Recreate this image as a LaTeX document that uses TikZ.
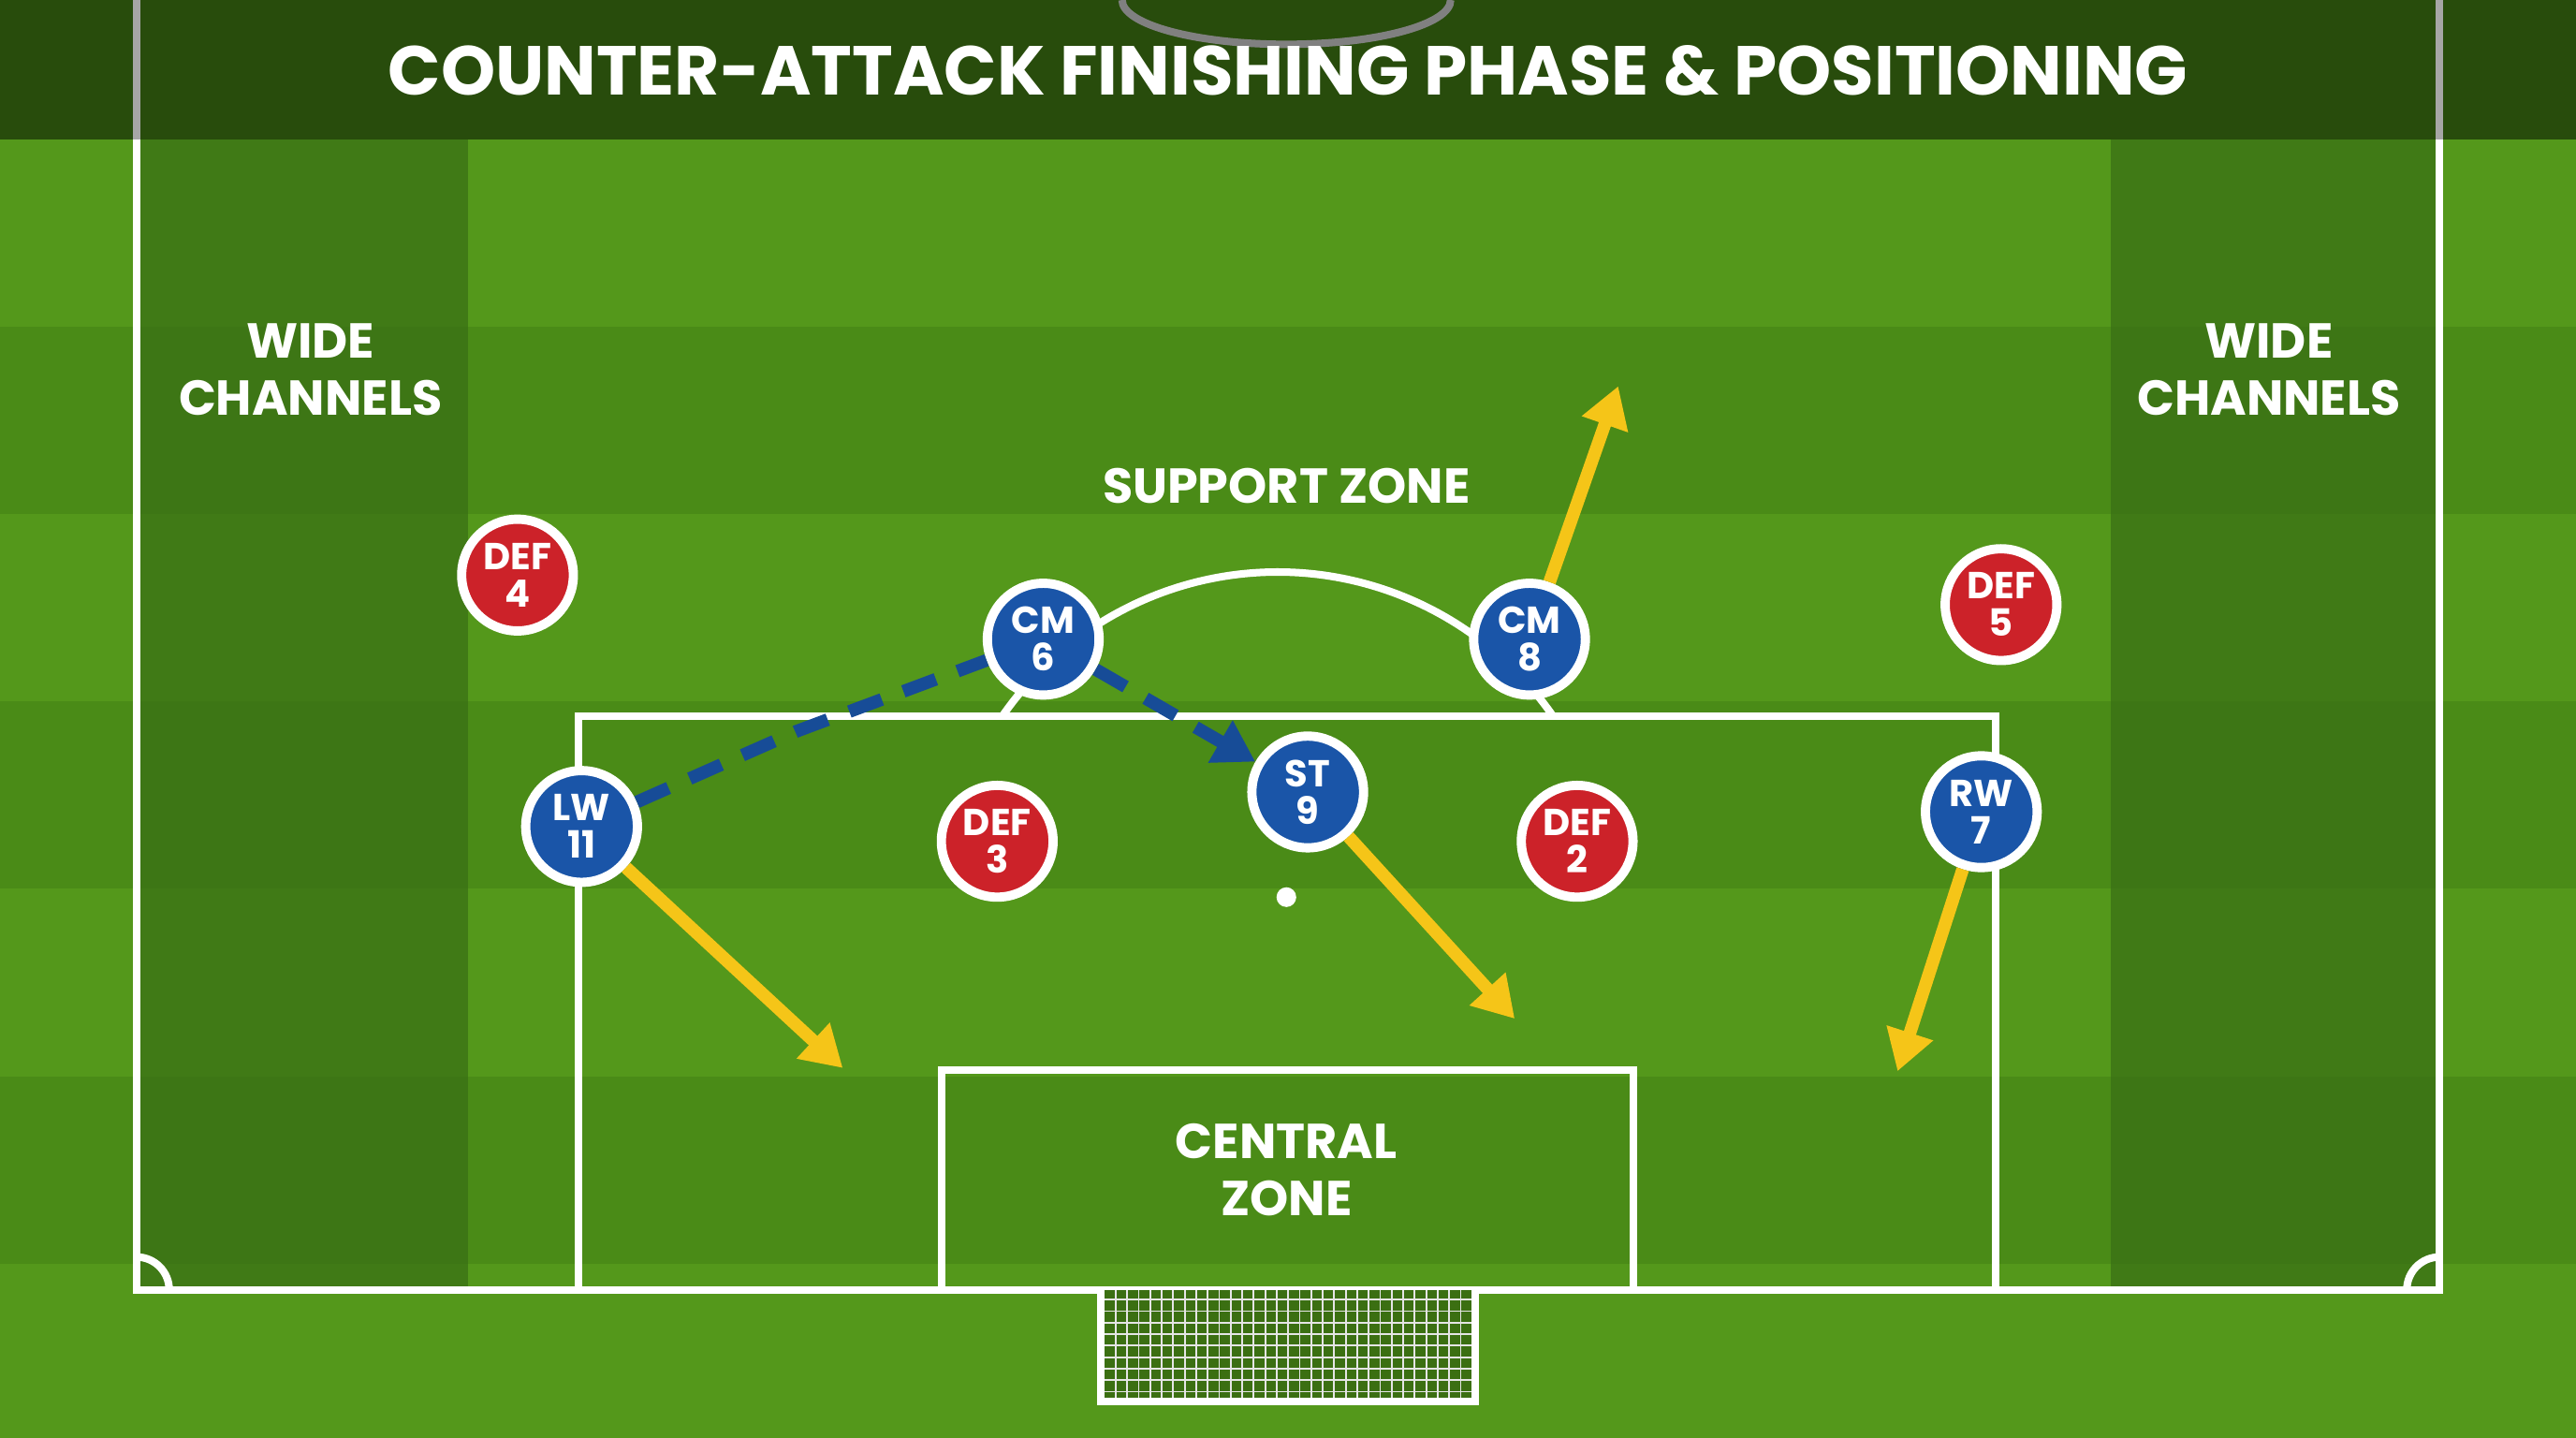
\documentclass[tikz,border=0pt]{standalone}
\usepackage{fontspec}
\setmainfont{Poppins}
\usetikzlibrary{arrows.meta,calc}
\definecolor{grassA}{HTML}{4A8B17}
\definecolor{grassB}{HTML}{54981B}
\definecolor{chan}{HTML}{386E15}
\definecolor{blueP}{HTML}{1A55A8}
\definecolor{redP}{HTML}{CC2229}
\definecolor{yel}{HTML}{F5C518}
\tikzset{
  player/.style={circle,draw=white,line width=1.6pt,minimum size=0.68cm,inner sep=0pt,
    font=\bfseries\fontsize{6.5}{6.5}\selectfont,text=white,align=center},
  att/.style={player,fill=blueP},
  def/.style={player,fill=redP},
  run/.style={yel,line width=2.2pt,-{Triangle[length=7pt,width=8pt]}},
  pass/.style={blueP!90!black,line width=2.2pt,dash pattern=on 6pt off 4pt},
  zone/.style={text=white,font=\bfseries\fontsize{8.5}{10}\selectfont,align=center},
  pline/.style={white,line width=1.3pt}
}
\begin{document}
\begin{tikzpicture}[x=1cm,y=1cm]
	% background and stripes
	\useasboundingbox (0,0) rectangle (15.68,8.75);
	\fill[grassA] (0,0) rectangle (15.68,8.75);
	\foreach \i in {0,2,4,6} {
		\fill[grassB] (0,{8.75-0.85-\i*1.14}) rectangle (15.68,{8.75-0.85-(\i+1)*1.14});
	}
	% wide channels
	\fill[chan,opacity=0.7] (0.85,0.9) rectangle (2.85,7.9);
	\fill[chan,opacity=0.7] (12.85,0.9) rectangle (14.85,7.9);
	
	% pitch lines
	\draw[pline] (0.83,7.9) -- (0.83,0.9) -- (14.85,0.9) -- (14.85,7.9);
	\draw[pline] (1.03,0.9) arc (0:90:0.2);
	\draw[pline] (14.65,0.9) arc (180:90:0.2);
	\draw[pline] (3.52,0.9) rectangle (12.15,4.39);
	\draw[pline] (5.73,0.9) rectangle (9.94,2.24);
	\fill[white] (7.83,3.29) circle (0.06);
	\draw[pline] (6.10,4.39) arc ({180-34.7}:34.7:2.04);
	% goal with net
	\fill[grassA!80!black] (6.70,0.22) rectangle (8.98,0.9);
	\draw[white!80!gray,line width=0.3pt,step=0.07] (6.70,0.22) grid (8.98,0.9);
	\draw[pline] (6.70,0.9) -- (6.70,0.22) -- (8.98,0.22) -- (8.98,0.9);
	
	% header
	\fill[black,opacity=0.45] (0,7.9) rectangle (15.68,8.75);
	\draw[gray,line width=1.3pt] (6.83,8.75) arc (180:360:1.0 and 0.27);
	\draw[gray!70,line width=1.3pt] (0.83,7.9) -- (0.83,8.75);
	\draw[gray!70,line width=1.3pt] (14.85,7.9) -- (14.85,8.75);
	\node[text=white,font=\bfseries\fontsize{12}{14}\selectfont] (title) at (7.84,8.32) {COUNTER-ATTACK FINISHING PHASE \& POSITIONING};
	
	% zone labels
	\node[zone] (wideL) at (1.89,6.5) {WIDE\\CHANNELS};
	\node[zone] (wideR) at (13.81,6.5) {WIDE\\CHANNELS};
	\node[zone] (support) at (7.83,5.79) {SUPPORT ZONE};
	\node[zone] (central) at (7.83,1.63) {CENTRAL\\ZONE};
	
	% players
	\node[att] (cm6) at (6.35,4.86) {CM\\6};
	\node[att] (cm8) at (9.31,4.86) {CM\\8};
	\node[att] (st9) at (7.96,3.93) {ST\\9};
	\node[att] (lw11) at (3.54,3.72) {LW\\11};
	\node[att] (rw7) at (12.06,3.81) {RW\\7};
	\node[def] (def4) at (3.15,5.25) {DEF\\4};
	\node[def] (def5) at (12.18,5.07) {DEF\\5};
	\node[def] (def3) at (6.07,3.63) {DEF\\3};
	\node[def] (def2) at (9.60,3.63) {DEF\\2};
	
	% runs
	\coordinate (r8) at (9.85,6.40);
	\coordinate (r11) at (5.13,2.25);
	\coordinate (r9) at (9.22,2.55);
	\coordinate (r7) at (11.55,2.23);
	\draw[run] (cm8) -- (r8);
	\draw[run] (lw11) -- (r11);
	\draw[run] (st9) -- (r9);
	\draw[run] (rw7) -- (r7);
	
	% passes
	\draw[pass] (lw11) -- (4.85,4.30) -- (cm6);
	\draw[pass,-{Triangle[length=7pt,width=8pt]}] (cm6) -- (st9);
\end{tikzpicture}
\end{document}
